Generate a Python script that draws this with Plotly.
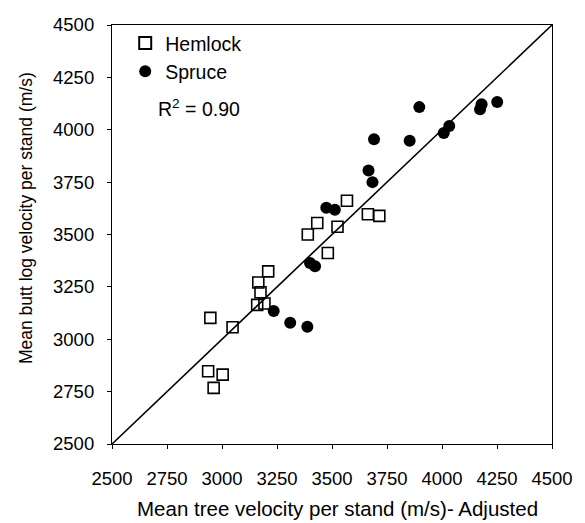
import plotly.graph_objects as go

hemlock_x = [3210, 3165, 3175, 3160, 3193, 2947, 3048, 2937, 3003, 2962,
             3568, 3433, 3390, 3525, 3663, 3715, 3481]
hemlock_y = [3324, 3271, 3224, 3164, 3171, 3102, 3057, 2847, 2831, 2768,
             3661, 3555, 3500, 3537, 3597, 3589, 3412]

spruce_x = [3897, 3691, 3853, 4180, 4173, 4251, 4033, 4008, 3666, 3684,
            3474, 3513, 3400, 3423, 3235, 3310, 3388]
spruce_y = [4108, 3955, 3947, 4122, 4098, 4133, 4018, 3984, 3805, 3750,
            3628, 3618, 3364, 3348, 3135, 3079, 3060]

axis_range = [2500, 4500]
tick_vals = [2500, 2750, 3000, 3250, 3500, 3750, 4000, 4250, 4500]
r2_text = "R<sup>2</sup> = 0.90"
x_title = "Mean tree velocity per stand (m/s)- Adjusted"
y_title = "Mean butt log velocity per stand (m/s)"

FONT = "Liberation Sans, Arial, sans-serif"

fig = go.Figure()
fig.add_trace(go.Scatter(
    x=axis_range, y=axis_range, mode="lines",
    line=dict(color="black", width=1.6), showlegend=False, hoverinfo="skip"))
fig.add_trace(go.Scatter(
    x=hemlock_x, y=hemlock_y, mode="markers", name="Hemlock",
    marker=dict(symbol="square-open", size=11, color="black", line=dict(width=1.6))))
fig.add_trace(go.Scatter(
    x=spruce_x, y=spruce_y, mode="markers", name="Spruce",
    marker=dict(symbol="circle", size=12, color="black")))

fig.add_annotation(x=0.10, y=0.802, xref="paper", yref="paper",
                   text=r2_text, showarrow=False, xanchor="left", yanchor="middle",
                   font=dict(size=19.5, color="black", family=FONT))
fig.add_annotation(x=0.512, y=-0.155, xref="paper", yref="paper",
                   text=x_title, showarrow=False, xanchor="center", yanchor="middle",
                   font=dict(size=20.5, color="black", family=FONT))
fig.add_annotation(x=-0.197, y=0.54, xref="paper", yref="paper",
                   text=y_title, showarrow=False, xanchor="center", yanchor="middle",
                   textangle=-90,
                   font=dict(size=17.5, color="black", family=FONT))

axis_common = dict(range=axis_range, tickvals=tick_vals, ticks="outside", ticklen=4,
                   tickcolor="black", showline=True, linecolor="black", linewidth=1.2,
                   mirror=True, showgrid=False, zeroline=False,
                   tickfont=dict(size=18.5, color="black", family=FONT))

fig.update_xaxes(**axis_common, ticklabelstandoff=14)
fig.update_yaxes(**axis_common, ticklabelstandoff=9)

fig.update_layout(
    width=585, height=523,
    margin=dict(l=112, r=28, t=25, b=79),
    paper_bgcolor="white", plot_bgcolor="white",
    font=dict(family=FONT, color="black", size=18),
    legend=dict(x=0.03, y=1.003, xanchor="left", yanchor="top",
                bgcolor="rgba(0,0,0,0)", font=dict(size=19.5, family=FONT),
                itemsizing="constant"),
)

fig.write_html("out.html")
